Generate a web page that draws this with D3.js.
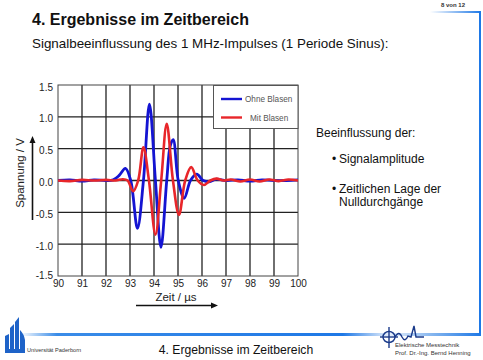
<!DOCTYPE html>
<html><head><meta charset="utf-8">
<script src="https://cdn.jsdelivr.net/npm/d3@7"></script>
<style>
html,body{margin:0;padding:0;background:#fff;}
svg{display:block;font-family:"Liberation Sans",Arial,sans-serif;}
</style></head>
<body>
<script>
// ---- data ----
const xTicks = [90, 91, 92, 93, 94, 95, 96, 97, 98, 99, 100];
const yTicks = [-1.5, -1.0, -0.5, 0.0, 0.5, 1.0, 1.5];
const seriesNames = ["Ohne Blasen", "Mit Blasen"];
// Ohne Blasen (blue)
const blueT = [90, 90.5, 91, 91.5, 92, 92.3, 92.55, 92.81, 93.03, 93.31, 93.56, 93.81, 94.06, 94.29, 94.53, 94.68, 94.80, 95.01, 95.26, 95.52, 95.78, 96.05, 96.3, 96.6, 97, 97.5, 98, 98.5, 99, 99.5, 100];
const blueV = [0, 0.01, -0.01, 0.01, 0, 0.01, 0.08, 0.19, 0, -0.75, 0, 1.20, 0, -1.05, 0, 0.55, 0.64, 0, -0.28, 0, 0.10, 0, -0.02, 0.02, 0, 0.01, -0.01, 0.01, 0, 0, 0.01];
// Mit Blasen (red)
const redT = [90, 90.5, 91, 91.5, 92, 92.4, 92.7, 92.9, 93.13, 93.34, 93.56, 93.79, 94.06, 94.30, 94.53, 94.79, 95.04, 95.30, 95.55, 95.82, 96.08, 96.35, 96.6, 96.9, 97.2, 97.6, 98, 98.4, 98.8, 99.2, 99.6, 100];
const redV = [0, -0.01, 0.01, 0, 0.01, 0, 0.02, 0, -0.17, 0, 0.52, 0, -0.85, 0, 0.89, 0, -0.54, 0, 0.21, 0, -0.07, 0, 0.03, 0, 0.015, -0.015, 0.015, -0.015, 0.015, -0.01, 0.015, 0];
const bullets = ["Signalamplitude", "Zeitlichen Lage der", "Nulldurchgänge"];

const W = 483, H = 360;
const svg = d3.select("body").append("svg").attr("width", W).attr("height", H);

// ---- decorations ----
const defs = svg.append("defs");
const g1 = defs.append("linearGradient").attr("id","topGrad").attr("x1","0").attr("x2","1");
g1.append("stop").attr("offset","0").attr("stop-color","#fff");
g1.append("stop").attr("offset","1").attr("stop-color","#1e78e6");
const g2 = defs.append("linearGradient").attr("id","botGrad").attr("x1","0").attr("x2","1");
g2.append("stop").attr("offset","0").attr("stop-color","#fff");
g2.append("stop").attr("offset","0.08").attr("stop-color","#3a8ce8");
g2.append("stop").attr("offset","0.7").attr("stop-color","#1e78e6");
g2.append("stop").attr("offset","0.8").attr("stop-color","#e8f0fb");
g2.append("stop").attr("offset","0.9").attr("stop-color","#7fb2ee");
g2.append("stop").attr("offset","1").attr("stop-color","#1e78e6");

svg.append("rect").attr("x",430).attr("y",11).attr("width",51).attr("height",2).attr("fill","url(#topGrad)");
svg.append("rect").attr("x",479).attr("y",11).attr("width",2).attr("height",324).attr("fill","#1e78e6");
svg.append("rect").attr("x",20).attr("y",333).attr("width",461).attr("height",3).attr("fill","url(#botGrad)");

svg.append("text").attr("x",453).attr("y",7).attr("text-anchor","middle")
  .attr("font-size",6).attr("font-weight","bold").attr("fill","#333").text("8 von 12");

svg.append("text").attr("x",32).attr("y",25).attr("font-size",16).attr("font-weight","bold")
  .attr("fill","#111").text("4. Ergebnisse im Zeitbereich");
svg.append("text").attr("x",32).attr("y",48).attr("font-size",13.4)
  .attr("fill","#111").text("Signalbeeinflussung des 1 MHz-Impulses (1 Periode Sinus):");

// ---- chart ----
const x = d3.scaleLinear().domain([90,100]).range([58,298]);
const y = d3.scaleLinear().domain([-1.5,1.5]).range([276,85]);

const grid = svg.append("g");
grid.selectAll("line.v").data(xTicks.slice(1,-1)).join("line")
  .attr("x1",d=>x(d)).attr("x2",d=>x(d)).attr("y1",y(1.5)).attr("y2",y(-1.5))
  .attr("stroke","#222").attr("stroke-width",1.3);
grid.selectAll("line.h").data(yTicks.slice(1,-1)).join("line")
  .attr("y1",d=>y(d)).attr("y2",d=>y(d)).attr("x1",x(90)).attr("x2",x(100))
  .attr("stroke","#222").attr("stroke-width",1.3);
svg.append("rect").attr("x",x(90)).attr("y",y(1.5)).attr("width",x(100)-x(90)).attr("height",y(-1.5)-y(1.5))
  .attr("fill","none").attr("stroke","#444").attr("stroke-width",1);

const xAxis = d3.axisBottom(x).tickValues(xTicks).tickSize(0).tickPadding(4).tickFormat(d => String(d));
const yAxis = d3.axisLeft(y).tickValues(yTicks).tickSize(0).tickPadding(5).tickFormat(d => d.toFixed(1));
const gx = svg.append("g").attr("transform",`translate(0,${y(-1.5)})`).call(xAxis);
const gy = svg.append("g").attr("transform",`translate(${x(90)},0)`).call(yAxis);
[gx,gy].forEach(g=>{ g.select(".domain").remove();
  g.selectAll("text").attr("font-size",10).attr("fill","#222").attr("font-family","Liberation Sans, Arial, sans-serif"); });
gy.selectAll("text").attr("dy","0.5em");
gy.selectAll("text").filter(d=>d===-1.5).attr("dy","0.2em");

defs.append("clipPath").attr("id","clip").append("rect")
  .attr("x",x(90)).attr("y",y(1.5)).attr("width",x(100)-x(90)).attr("height",y(-1.5)-y(1.5));

const line = d3.line().x(d=>x(d[0])).y(d=>y(d[1])).curve(d3.curveCatmullRom.alpha(0.5));
const blueData = blueT.map((t,i)=>[t,blueV[i]]);
const redData = redT.map((t,i)=>[t,redV[i]]);
const plot = svg.append("g").attr("clip-path","url(#clip)");
plot.append("path").datum(blueData).attr("d",line).attr("fill","none").attr("stroke","#1414d2").attr("stroke-width",2.8);
plot.append("path").datum(redData).attr("d",line).attr("fill","none").attr("stroke","#e8262a").attr("stroke-width",2.6);

// legend
const lg = svg.append("g");
lg.append("rect").attr("x",213.5).attr("y",85.5).attr("width",84.5).attr("height",43)
  .attr("fill","#fff").attr("stroke","#555").attr("stroke-width",1);
const lcol = ["#1414d2","#e8262a"];
const lx = [245, 250];
seriesNames.forEach((n,i)=>{
  const yy = 99 + i*18.5;
  lg.append("line").attr("x1",221).attr("x2",242).attr("y1",yy).attr("y2",yy).attr("stroke",lcol[i]).attr("stroke-width",2.4);
  lg.append("text").attr("x",lx[i]).attr("y",yy+3).attr("font-size",8.2).attr("fill","#555").text(n);
});

// axis titles & arrows
svg.append("text").attr("transform","translate(24,173) rotate(-90)").attr("text-anchor","middle")
  .attr("font-size",11.5).attr("fill","#222").text("Spannung / V");
svg.append("text").attr("x",176).attr("y",301).attr("text-anchor","middle")
  .attr("font-size",11.5).attr("fill","#222").text("Zeit / µs");
svg.append("line").attr("x1",32.5).attr("x2",32.5).attr("y1",220).attr("y2",142).attr("stroke","#111").attr("stroke-width",1.6);
svg.append("path").attr("d","M32.5,136 L29.5,143 L35.5,143 Z").attr("fill","#111");
svg.append("line").attr("x1",136).attr("x2",212).attr("y1",305.5).attr("y2",305.5).attr("stroke","#111").attr("stroke-width",1.6);
svg.append("path").attr("d","M218,305.5 L211,302.5 L211,308.5 Z").attr("fill","#111");

// right-hand text
svg.append("text").attr("x",316).attr("y",137).attr("font-size",12).attr("fill","#111").text("Beeinflussung der:");
const by = [163, 193, 206];
bullets.forEach((b,i)=>{
  if(i<2) svg.append("text").attr("x",332).attr("y",by[i]).attr("font-size",12).attr("fill","#111").text("•");
  svg.append("text").attr("x",339).attr("y",by[i]).attr("font-size",12).attr("fill","#111").text(b);
});

// footer
svg.append("text").attr("x",236).attr("y",354).attr("text-anchor","middle").attr("font-size",12.2).attr("fill","#111").text("4. Ergebnisse im Zeitbereich");
svg.append("text").attr("x",27).attr("y",352).attr("font-size",5.6).attr("fill","#333").text("Universität Paderborn");
svg.append("text").attr("x",395).attr("y",347).attr("font-size",6).attr("fill","#333").text("Elektrische Messtechnik");
svg.append("text").attr("x",395).attr("y",355).attr("font-size",6).attr("fill","#333").text("Prof. Dr.-Ing. Bernd Henning");

// Uni Paderborn logo (stylised bars)
const up = svg.append("g").attr("fill","#1e63c8");
up.append("path").attr("d","M5,353 L5,336 L9,334 L9,353 Z");
up.append("path").attr("d","M10,353 L10,328 L14,324 L14,353 Z");
up.append("path").attr("d","M15,353 L15,322 L19,317 L19,353 Z");
up.append("path").attr("d","M20,353 L20,330 Q24,334 25,340 L25,353 Z");
up.append("rect").attr("x",5).attr("y",349).attr("width",20).attr("height",4);

// EMT logo
const em = svg.append("g").attr("fill","none").attr("stroke","#1a3a8a").attr("stroke-width",1.4);
em.append("ellipse").attr("cx",389).attr("cy",337).attr("rx",6).attr("ry",5.5);
em.append("line").attr("x1",389).attr("x2",389).attr("y1",327).attr("y2",348);
em.append("line").attr("x1",380).attr("x2",398).attr("y1",337).attr("y2",337);
em.append("path").attr("d","M395,337 Q399,330 402,337 Q405,343 408,336 L411,337 L414,326 L416,337 L424,337");
</script>
</body></html>
